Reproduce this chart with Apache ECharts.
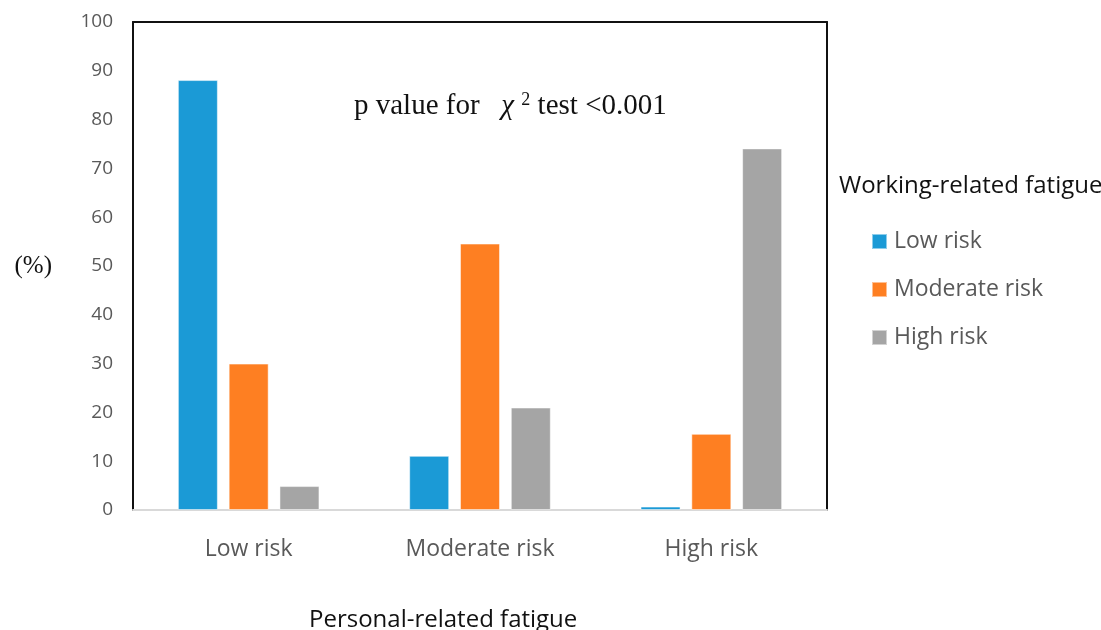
<!DOCTYPE html>
<html>
<head>
<meta charset="utf-8">
<script src="https://cdn.jsdelivr.net/npm/echarts@6/dist/echarts.min.js"></script>
<style>html,body{margin:0;padding:0;background:#fff}#c{width:1101px;height:630px}</style>
</head>
<body>
<div id="c"></div>
<script>
const categories = ['Low risk', 'Moderate risk', 'High risk'];
const lowRisk = [88.1, 11.1, 0.7];
const moderateRisk = [30.0, 54.6, 15.6];
const highRisk = [4.9, 21.0, 74.1];
const seriesNames = ['Low risk', 'Moderate risk', 'High risk'];
const colors = ['#1B9AD6', '#FE7F22', '#A5A5A5'];
const yTicks = [0, 100, 10];

const chart = echarts.init(document.getElementById('c'));
const sans = 'Open Sans';
const mk = (name, data, color) => ({
  name, type: 'bar', data, barWidth: 40, barGap: '27%', xAxisIndex: 0, yAxisIndex: 0,
  itemStyle: { color, borderColor: 'rgba(255,255,255,0.5)', borderWidth: 1 }
});
const frameAxis = { axisTick: { show: false }, axisLabel: { show: false }, splitLine: { show: false },
  axisLine: { show: true, onZero: false, lineStyle: { color: '#111', width: 2 } } };
chart.setOption({
  animation: false,
  color: colors,
  title: [
    { text: 'Working-related fatigue', left: 834, top: 169,
      textStyle: { fontFamily: sans, fontSize: 24, fontWeight: 'normal', color: '#111' } },
    { text: 'Personal-related fatigue', left: 304, top: 603,
      textStyle: { fontFamily: sans, fontSize: 24, fontWeight: 'normal', color: '#111' } },
    { text: '{a|p value for   }{c|χ }{s|2}{a| test <0.001}', left: 349, top: 86,
      textStyle: { fontWeight: 'normal', rich: {
        a: { fontFamily: 'Liberation Serif', fontSize: 29, fontWeight: 'normal', color: '#111' },
        c: { fontFamily: 'Liberation Serif', fontSize: 29, fontWeight: 'normal', fontStyle: 'italic', color: '#111' },
        s: { fontFamily: 'Liberation Serif', fontSize: 18, fontWeight: 'normal', color: '#111', verticalAlign: 'bottom', padding: [0,0,13,0] }
      } } }
  ],
  legend: {
    orient: 'vertical', left: 866, top: 225, itemWidth: 15, itemHeight: 15, itemGap: 25,
    icon: 'rect', data: seriesNames,
    textStyle: { fontFamily: sans, fontSize: 23, color: '#595959', padding: [0,0,0,2] }
  },
  grid: { left: 133, right: 274, top: 22, bottom: 120, containLabel: false },
  xAxis: [{
    type: 'category', data: categories,
    axisLine: { onZero: false, lineStyle: { color: '#D9D9D9', width: 2 } },
    axisTick: { show: false },
    axisLabel: { fontFamily: sans, fontSize: 23, color: '#595959', margin: 28 }
  }, Object.assign({ type: 'category', data: categories, position: 'top' }, frameAxis)],
  yAxis: [{
    type: 'value', min: yTicks[0], max: yTicks[1], interval: yTicks[2],
    axisLine: { show: true, onZero: false, lineStyle: { color: '#111', width: 2 } },
    axisTick: { show: false },
    splitLine: { show: false },
    axisLabel: { fontFamily: sans, fontSize: 19, color: '#595959', margin: 20 },
    name: '(%)', nameLocation: 'middle', nameRotate: 0, nameGap: 81,
    nameTextStyle: { fontFamily: 'Liberation Serif', fontSize: 25, color: '#111' }
  }, Object.assign({ type: 'value', min: yTicks[0], max: yTicks[1], interval: yTicks[2], position: 'right' }, frameAxis)],
  series: [mk(seriesNames[0], lowRisk, colors[0]), mk(seriesNames[1], moderateRisk, colors[1]), mk(seriesNames[2], highRisk, colors[2])]
});
</script>
</body>
</html>
